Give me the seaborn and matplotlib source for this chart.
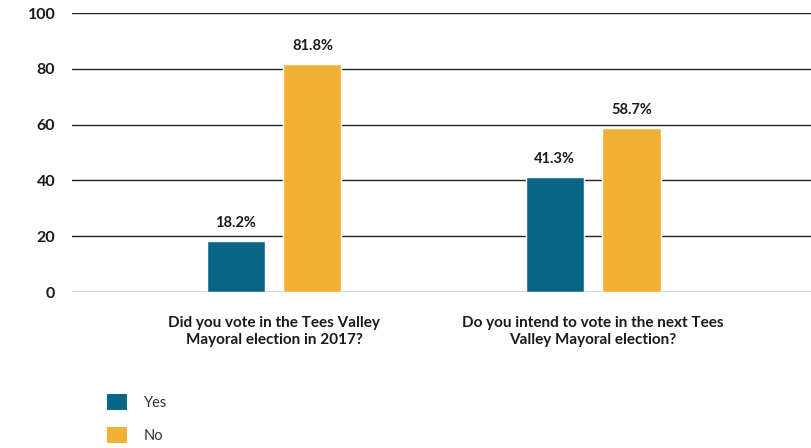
import matplotlib
matplotlib.use("Agg")
import matplotlib.pyplot as plt
import seaborn as sns
import pandas as pd
from matplotlib.patches import Patch

questions = ["Did you vote in the Tees Valley\nMayoral election in 2017?",
             "Do you intend to vote in the next Tees\nValley Mayoral election?"]
answers = ["Yes", "No"]
yes_values = [18.2, 41.3]
no_values = [81.8, 58.7]
y_ticks = [0, 20, 40, 60, 80, 100]

colors = {"Yes": "#086586", "No": "#F2B134"}

df = pd.DataFrame({
    "question": questions * 2,
    "answer": ["Yes"] * len(questions) + ["No"] * len(questions),
    "value": yes_values + no_values,
})

sns.set_theme(style="white")
plt.rcParams["font.family"] = ["Lato", "DejaVu Sans"]

fig = plt.figure(figsize=(8.11, 4.48), dpi=100)
ax = fig.add_axes([72 / 811, (448 - 292) / 448, 1 - 72 / 811, (292 - 13) / 448])

sns.barplot(data=df, x="question", y="value", hue="answer", order=questions,
            hue_order=answers, palette=colors, width=0.482, gap=0.245,
            saturation=1, ax=ax, legend=False)

for cont in ax.containers:
    ax.bar_label(cont, labels=[f"{v:.1f}%" for v in cont.datavalues],
                 padding=8, fontsize=10.5, fontweight="bold", color="#1a1a1a")

ax.set_ylim(0, 100)
ax.set_xlim(-0.633, 1.683)
ax.set_yticks(y_ticks)
ax.set_yticklabels([str(t) for t in y_ticks], fontsize=11.5, fontweight="bold", color="#1a1a1a")
ax.tick_params(axis="y", length=0, pad=12)
ax.tick_params(axis="x", length=0, pad=17)
for lab in ax.get_xticklabels():
    lab.set_fontsize(11)
    lab.set_fontweight("bold")
    lab.set_color("#1a1a1a")
    lab.set_linespacing(1.3)
ax.set_xlabel("")
ax.set_ylabel("")
ax.yaxis.grid(True, color="#222222", linewidth=1)
ax.set_axisbelow(True)
for s in ax.spines.values():
    s.set_visible(False)

handles = [Patch(facecolor=colors[a], edgecolor="none", label=a) for a in answers]
fig.legend(handles=handles, loc="upper left", bbox_to_anchor=(94 / 811, 1 - 381 / 448),
           frameon=False, fontsize=10.5, handlelength=1.35, handleheight=1.35,
           handletextpad=1.15, labelspacing=1.1, labelcolor="#333333")

fig.savefig("out.png", dpi=100)
